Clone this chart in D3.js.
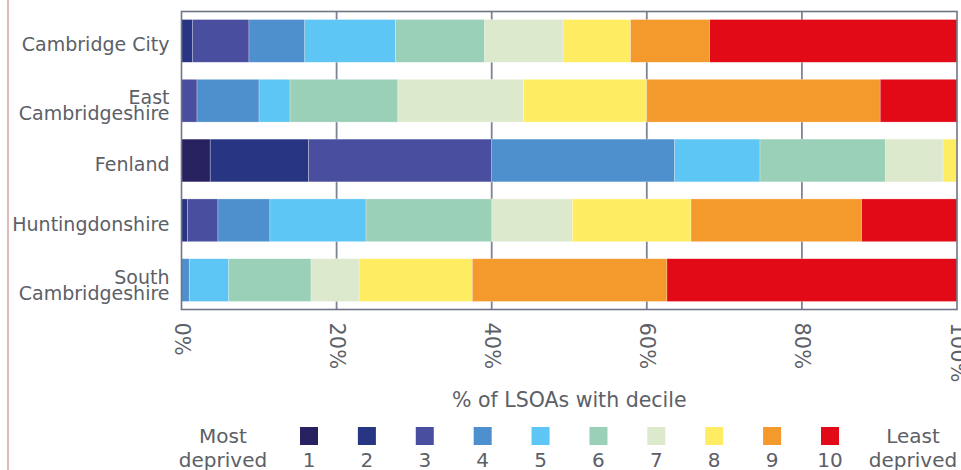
<!DOCTYPE html>
<html>
<head>
<meta charset="utf-8">
<script src="https://cdn.jsdelivr.net/npm/d3@7"></script>
<style>
  html, body { margin: 0; padding: 0; background: #fff; }
  svg { display: block; }
  text { font-family: "DejaVu Sans", sans-serif; fill: #5c6067; }
</style>
</head>
<body>
<svg id="chart" width="961" height="470"></svg>
<script>
// ---- data ----
const districts = ["Cambridge City", "East Cambridgeshire", "Fenland", "Huntingdonshire", "South Cambridgeshire"];
const districtLines = [["Cambridge City"], ["East", "Cambridgeshire"], ["Fenland"], ["Huntingdonshire"], ["South", "Cambridgeshire"]];
const deciles = ["1", "2", "3", "4", "5", "6", "7", "8", "9", "10"];
// % of LSOAs in each decile, per district (same order as districts)
const decile1  = [0,    0,    3.7,  0,    0];
const decile2  = [1.4,  0,    12.7, 0.8,  0];
const decile3  = [7.3,  2.0,  23.6, 3.9,  0];
const decile4  = [7.2,  8.0,  23.6, 6.7,  1.0];
const decile5  = [11.7, 4.0,  11.0, 12.4, 5.1];
const decile6  = [11.5, 13.9, 16.2, 16.2, 10.6];
const decile7  = [10.1, 16.2, 7.4,  10.4, 6.2];
const decile8  = [8.7,  15.9, 1.8,  15.3, 14.6];
const decile9  = [10.2, 30.1, 0,    22.0, 25.1];
const decile10 = [31.9, 9.9,  0,    12.3, 37.4];
const tickValues = [0, 20, 40, 60, 80, 100];
const tickLabels = ["0%", "20%", "40%", "60%", "80%", "100%"];
const colors = ["#27215f", "#283583", "#4a4e9f", "#4e90cd", "#5ec6f4", "#9acfb8", "#dde9cd", "#feec62", "#f4992c", "#e20a16"];
const axisTitle = "% of LSOAs with decile";
const legendLeft = ["Most", "deprived"];
const legendRight = ["Least", "deprived"];

// ---- build table ----
const decileSeries = [decile1, decile2, decile3, decile4, decile5, decile6, decile7, decile8, decile9, decile10];
const table = districts.map((d, i) => {
  const row = { district: d };
  deciles.forEach((k, j) => { row[k] = decileSeries[j][i]; });
  return row;
});
const stacked = d3.stack().keys(deciles)(table);

// ---- layout ----
const svg = d3.select("#chart");
const pL = 181.5, pR = 957, pT = 11.5, pB = 309.5;

const x = d3.scaleLinear().domain([0, 100]).range([pL, pR]);
const y = d3.scaleBand().domain(districts).range([pT, pB]).paddingInner(0.285).paddingOuter(0.134);
const color = d3.scaleOrdinal().domain(deciles).range(colors);

// page edge line
svg.append("line").attr("x1", 8).attr("x2", 8).attr("y1", 0).attr("y2", 470)
  .attr("stroke", "#d6a2a2").attr("stroke-width", 1.5);

// grid lines
svg.append("g").selectAll("line").data(tickValues.slice(1, -1)).join("line")
  .attr("x1", d => x(d)).attr("x2", d => x(d))
  .attr("y1", pT).attr("y2", pB)
  .attr("stroke", "#7d8496").attr("stroke-width", 1.8);

// bars
svg.append("g").selectAll("g").data(stacked).join("g")
  .attr("fill", d => color(d.key))
  .selectAll("rect").data(d => d).join("rect")
  .attr("x", d => x(d[0]))
  .attr("width", d => Math.max(0, x(d[1]) - x(d[0])))
  .attr("y", d => y(d.data.district))
  .attr("height", y.bandwidth())
  .attr("stroke", "#ffffff").attr("stroke-opacity", 0.45).attr("stroke-width", 0.6);

// frame
svg.append("rect").attr("x", pL).attr("y", pT).attr("width", pR - pL).attr("height", pB - pT)
  .attr("fill", "none").attr("stroke", "#6f7688").attr("stroke-width", 1.6);

// x axis (ticks rotated)
const xAxis = d3.axisBottom(x).tickValues(tickValues).tickSize(0)
  .tickFormat((d, i) => tickLabels[i]);
const gx = svg.append("g").attr("transform", `translate(0,${pB})`).call(xAxis);
gx.select(".domain").remove();
gx.selectAll(".tick text")
  .attr("transform", "translate(0,13) rotate(90)")
  .attr("x", 0).attr("y", 0).attr("dy", "0.33em")
  .attr("text-anchor", "start")
  .style("font-size", "21px").style("font-family", "DejaVu Sans, sans-serif").attr("fill", "#5c6067");

// axis title
svg.append("text").attr("x", (pL + pR) / 2).attr("y", 406.5)
  .attr("text-anchor", "middle").style("font-size", "20.5px").text(axisTitle);

// y labels
const yl = svg.append("g");
districts.forEach((d, i) => {
  const lines = districtLines[i];
  const c = y(d) + y.bandwidth() / 2;
  const t = yl.append("text").attr("text-anchor", "end").style("font-size", "19px");
  if (lines.length === 1) {
    t.append("tspan").attr("x", 169.5).attr("y", c + 10.5).text(lines[0]);
  } else {
    t.append("tspan").attr("x", 169.5).attr("y", c + 3.7).text(lines[0]);
    t.append("tspan").attr("x", 169.5).attr("y", c + 19.7).text(lines[1]);
  }
});

// legend
const lx = d3.scaleLinear().domain([0, 9]).range([309, 830]);
const lg = svg.append("g");
lg.selectAll("rect").data(deciles).join("rect")
  .attr("x", (d, i) => lx(i) - 9).attr("y", 427).attr("width", 18).attr("height", 18)
  .attr("fill", d => color(d));
lg.selectAll("text.num").data(deciles).join("text").attr("class", "num")
  .attr("x", (d, i) => lx(i)).attr("y", 466.5).attr("text-anchor", "middle")
  .style("font-size", "20px").text(d => d);
[[223, legendLeft], [913, legendRight]].forEach(([cx, lines]) => {
  const t = lg.append("text").attr("text-anchor", "middle").style("font-size", "20px");
  t.append("tspan").attr("x", cx).attr("y", 442.5).text(lines[0]);
  t.append("tspan").attr("x", cx).attr("y", 466.5).text(lines[1]);
});
</script>
</body>
</html>
